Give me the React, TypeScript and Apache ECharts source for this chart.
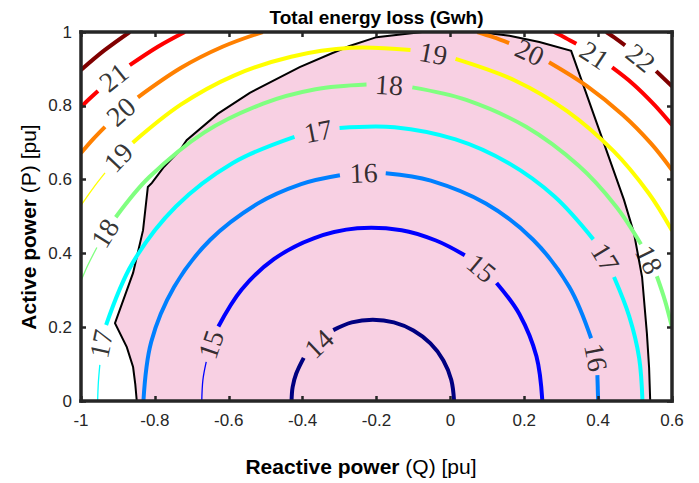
import React, { useEffect, useRef } from "react";
import * as echarts from "echarts";

// ---------- data ----------
const levels = [14, 15, 16, 17, 18, 19, 20, 21, 22];
const levelColors = ["#000080", "#0000ff", "#0080ff", "#00ffff", "#80ff80", "#ffff00", "#ff8000", "#ff0000", "#800000"];

// contour segments [Q, P] (gaps are where the inline labels sit)
const contour14 = [
  [[-0.43, 0], [-0.427, 0.038], [-0.417, 0.075], [-0.397, 0.117]],
  [[-0.317, 0.192], [-0.267, 0.213], [-0.21, 0.22], [-0.153, 0.213], [-0.1, 0.191], [-0.054, 0.156], [-0.019, 0.11], [0.0025, 0.057], [0.01, 0]],
];
const contour15 = [
  [[-0.628, 0.202], [-0.565, 0.302], [-0.477, 0.385], [-0.37, 0.441], [-0.252, 0.468], [-0.132, 0.463], [-0.039, 0.435], [0.039, 0.395]],
  [[0.125, 0.32], [0.187, 0.235], [0.233, 0.121], [0.249, 0]],
];
const thin15 = [[-0.673, 0], [-0.67, 0.057], [-0.661, 0.106]];
const contour16 = [
  [[-0.831, 0], [-0.81, 0.16], [-0.748, 0.309], [-0.65, 0.437], [-0.522, 0.535], [-0.404, 0.588], [-0.299, 0.612]],
  [[-0.175, 0.617], [-0.053, 0.597], [0.096, 0.535], [0.224, 0.437], [0.322, 0.309], [0.381, 0.17]],
  [[0.398, 0.07], [0.4, 0]],
];
const contour17 = [
  [[-0.932, 0.206], [-0.861, 0.373], [-0.743, 0.527], [-0.589, 0.645], [-0.422, 0.716]],
  [[-0.3, 0.74], [-0.151, 0.742], [0.014, 0.709], [0.157, 0.645], [0.282, 0.554], [0.387, 0.438]],
  [[0.443, 0.336], [0.484, 0.23], [0.511, 0.117], [0.52, 0]],
];
const thin17 = [[-0.955, 0], [-0.953, 0.05], [-0.949, 0.098]];
const contour18 = [
  [[-0.906, 0.498], [-0.815, 0.607], [-0.666, 0.728], [-0.507, 0.806], [-0.365, 0.845], [-0.227, 0.858]],
  [[-0.103, 0.85], [0.043, 0.816], [0.205, 0.743], [0.347, 0.638], [0.448, 0.528], [0.516, 0.425]],
  [[0.559, 0.338], [0.581, 0.272], [0.6, 0.2]],
];
const thin18 = [[-1, 0.325], [-0.981, 0.369], [-0.957, 0.416]];
const contour19 = [
  [[-0.86, 0.7], [-0.73, 0.803], [-0.586, 0.882], [-0.431, 0.933], [-0.269, 0.957], [-0.108, 0.951]],
  [[0.014, 0.927], [0.176, 0.868], [0.317, 0.785], [0.442, 0.677], [0.537, 0.563], [0.6, 0.462]],
];
const thin19 = [[-1, 0.53], [-0.967, 0.577], [-0.935, 0.618]];
const contour20 = [
  [[-1, 0.672], [-0.966, 0.711], [-0.935, 0.743]],
  [[-0.846, 0.823], [-0.729, 0.903], [-0.617, 0.96], [-0.508, 1.0]],
  [[0.073, 1.0], [0.116, 0.986], [0.159, 0.97]],
  [[0.267, 0.918], [0.369, 0.854], [0.467, 0.775], [0.543, 0.698], [0.6, 0.626]],
];
const contour21 = [
  [[-1, 0.797], [-0.977, 0.819], [-0.954, 0.84]],
  [[-0.868, 0.91], [-0.792, 0.96], [-0.719, 1.0]],
  [[0.281, 1.0], [0.312, 0.984], [0.341, 0.968]],
  [[0.438, 0.904], [0.496, 0.858], [0.553, 0.802], [0.6, 0.748]],
];
const contour22 = [
  [[-1, 0.897], [-0.937, 0.95], [-0.868, 1.0]],
  [[0.422, 1.0], [0.45, 0.981], [0.473, 0.964]],
  [[0.557, 0.894], [0.6, 0.853]],
];

const thickContours = [contour14, contour15, contour16, contour17, contour18, contour19, contour20, contour21, contour22];
const thinContours = [null, thin15, null, thin17, thin18, thin19, null, null, null];

// feasible region boundary
const boundaryQ = [-0.849, -0.853, -0.859, -0.876, -0.908, -0.859, -0.832, -0.819, -0.808, -0.775, -0.732, -0.714, -0.63, -0.543, -0.408, -0.319, -0.273, -0.2, -0.076, 0.078, 0.16, 0.241, 0.327, 0.47, 0.497, 0.519, 0.532, 0.538, 0.541];
const boundaryP = [0, 0.045, 0.092, 0.146, 0.211, 0.347, 0.463, 0.58, 0.591, 0.635, 0.68, 0.707, 0.778, 0.835, 0.905, 0.943, 0.962, 0.986, 1.0, 1.0, 0.99, 0.973, 0.949, 0.545, 0.455, 0.336, 0.184, 0.09, 0];

// inline contour labels
const labelText = ["14", "15", "15", "16", "16", "17", "17", "17", "18", "18", "18", "19", "19", "20", "20", "21", "21", "22"];
const labelQ = [-0.356, -0.648, 0.084, -0.235, 0.394, -0.358, -0.945, 0.419, -0.935, -0.166, 0.538, -0.899, -0.046, -0.892, 0.215, -0.911, 0.39, 0.515];
const labelP = [0.155, 0.153, 0.36, 0.618, 0.118, 0.731, 0.155, 0.389, 0.455, 0.856, 0.383, 0.66, 0.941, 0.784, 0.945, 0.877, 0.937, 0.93];
const labelAngle = [43.5, 71, -40, 2, -79, 11, 78, -58.5, 58, -3.5, -63.5, 46.5, -10.7, 41.2, -25, 38.5, -33.2, -39];

const xTicks = { min: -1, max: 0.6, interval: 0.2 };
const yTicks = { min: 0, max: 1, interval: 0.2 };

const AXIS_COLOR = "#262626";
const SANS = "'Liberation Sans', Arial, sans-serif";
const SERIF = "'Liberation Serif', 'Times New Roman', serif";

export default function App() {
  const ref = useRef<HTMLDivElement>(null);

  useEffect(() => {
    if (!ref.current) return;
    const chart = echarts.init(ref.current, null, { renderer: "svg" });

    const fmt = (v: number) => String(+v.toFixed(1));
    const axisLine = { onZero: false, lineStyle: { color: AXIS_COLOR, width: 3.5, cap: "square" } };
    const axisTick = { inside: true, length: 5, lineStyle: { color: AXIS_COLOR, width: 2.5 } };

    // flat list of contour strokes
    const strokes: { pts: number[][]; color: string; width: number; level: number }[] = [];
    levels.forEach((lv, i) => {
      thickContours[i].forEach((seg) => strokes.push({ pts: seg, color: levelColors[i], width: 4, level: lv }));
      const thin = thinContours[i];
      if (thin) strokes.push({ pts: thin, color: levelColors[i], width: 1.3, level: lv });
    });

    const series: any[] = [
      {
        type: "custom",
        name: "feasible region",
        xAxisIndex: 0,
        yAxisIndex: 0,
        silent: true,
        z: 1,
        clip: true,
        data: [[boundaryQ[0], boundaryP[0]]],
        renderItem: (_params: any, api: any) => ({
          type: "polygon",
          shape: { points: boundaryQ.map((q, i) => api.coord([q, boundaryP[i]])) },
          style: { fill: "#f8d0e3", stroke: "#000000", lineWidth: 2 },
        }),
      },
      {
        type: "custom",
        name: "contours",
        xAxisIndex: 0,
        yAxisIndex: 0,
        silent: true,
        z: 3,
        clip: true,
        data: strokes.map((s) => [s.pts[0][0], s.pts[0][1], s.level]),
        renderItem: (params: any, api: any) => {
          const s = strokes[params.dataIndex];
          return {
            type: "polyline",
            shape: { points: s.pts.map((p) => api.coord(p)), smooth: 0.35 },
            style: { stroke: s.color, lineWidth: s.width, fill: "none" },
          };
        },
      },
      {
        type: "scatter",
        xAxisIndex: 0,
        yAxisIndex: 0,
        symbol: "circle",
        symbolSize: 2,
        itemStyle: { color: "rgba(0,0,0,0)" },
        silent: true,
        z: 6,
        labelLayout: { hideOverlap: false },
        data: labelText.map((t, i) => ({
          value: [labelQ[i], labelP[i]],
          name: t,
          label: { rotate: labelAngle[i] },
        })),
        label: {
          show: true,
          position: "inside",
          formatter: "{b}",
          fontFamily: SERIF,
          fontSize: 28,
          color: "#000000",
        },
      },
    ];

    chart.setOption({
      animation: false,
      backgroundColor: "#ffffff",
      grid: { left: 81, right: 27, top: 32, bottom: 82 },
      xAxis: [
        {
          type: "value",
          position: "bottom",
          ...xTicks,
          z: 5,
          axisLine,
          axisTick,
          splitLine: { show: false },
          axisLabel: { formatter: fmt, fontSize: 17, color: AXIS_COLOR, fontFamily: SANS, margin: 11 },
        },
        {
          type: "value",
          position: "top",
          ...xTicks,
          z: 5,
          axisLine,
          axisTick,
          splitLine: { show: false },
          axisLabel: { show: false },
        },
      ],
      yAxis: [
        {
          type: "value",
          position: "left",
          ...yTicks,
          z: 5,
          axisLine,
          axisTick,
          splitLine: { show: false },
          axisLabel: { formatter: fmt, fontSize: 17, color: AXIS_COLOR, fontFamily: SANS, margin: 9 },
        },
        {
          type: "value",
          position: "right",
          ...yTicks,
          z: 5,
          axisLine,
          axisTick,
          splitLine: { show: false },
          axisLabel: { show: false },
        },
      ],
      graphic: [
        {
          type: "text",
          x: 376.5,
          y: 17,
          style: {
            text: "Total energy loss (Gwh)",
            fontFamily: SANS,
            fontWeight: "bold",
            fontSize: 19,
            fill: "#000000",
            align: "center",
            verticalAlign: "middle",
          },
        },
        {
          type: "text",
          x: 361,
          y: 466,
          style: {
            text: "{b|Reactive power}{n| (Q) [pu]}",
            align: "center",
            verticalAlign: "middle",
            rich: {
              b: { fontFamily: SANS, fontWeight: "bold", fontSize: 21, fill: "#000000" },
              n: { fontFamily: SANS, fontSize: 21, fill: "#000000" },
            },
          },
        },
        {
          type: "text",
          x: 28,
          y: 227,
          rotation: Math.PI / 2,
          style: {
            text: "{b|Active power}{n| (P) [pu]}",
            align: "center",
            verticalAlign: "middle",
            rich: {
              b: { fontFamily: SANS, fontWeight: "bold", fontSize: 21, fill: "#000000" },
              n: { fontFamily: SANS, fontSize: 21, fill: "#000000" },
            },
          },
        },
      ],
      series,
    });

    return () => chart.dispose();
  }, []);

  return (
    <div
      ref={ref}
      style={{ position: "fixed", left: 0, top: 0, width: 699, height: 483, background: "#fff" }}
    />
  );
}
